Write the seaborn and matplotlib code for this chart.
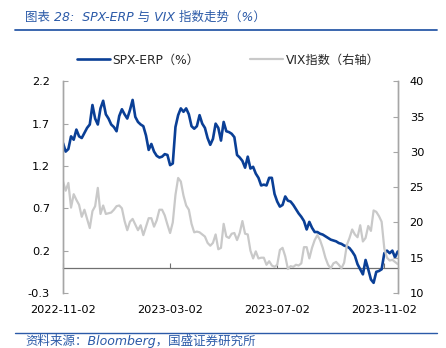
import numpy as np
import pandas as pd
import matplotlib
matplotlib.use("Agg")
import matplotlib.pyplot as plt
from matplotlib.lines import Line2D
import seaborn as sns

# ---------------- data ----------------
tick_labels = ["2022-11-02", "2023-03-02", "2023-07-02", "2023-11-02"]
tick_pos = [0, 80, 160, 240]

spx_erp = [
    1.47, 1.37, 1.40, 1.55, 1.51, 1.63, 1.55, 1.53, 1.59, 1.65,
    1.69, 1.92, 1.76, 1.69, 1.88, 1.97, 1.81, 1.76, 1.69, 1.66,
    1.61, 1.79, 1.87, 1.81, 1.76, 1.86, 1.98, 1.78, 1.72, 1.69,
    1.67, 1.56, 1.39, 1.46, 1.37, 1.32, 1.30, 1.31, 1.34, 1.33,
    1.21, 1.23, 1.66, 1.80, 1.88, 1.84, 1.88, 1.81, 1.67, 1.64,
    1.67, 1.80, 1.70, 1.65, 1.53, 1.45, 1.52, 1.70, 1.65, 1.50,
    1.72, 1.61, 1.60, 1.58, 1.54, 1.33, 1.30, 1.26, 1.18, 1.31,
    1.17, 1.19, 1.11, 1.06, 0.97, 0.98, 0.97, 1.06, 1.06, 0.87,
    0.78, 0.72, 0.74, 0.84, 0.79, 0.78, 0.74, 0.69, 0.64, 0.60,
    0.55, 0.45, 0.54, 0.47, 0.42, 0.42, 0.40, 0.39, 0.37, 0.35,
    0.33, 0.32, 0.31, 0.29, 0.28, 0.26, 0.25, 0.23, 0.19, 0.14,
    0.04, -0.02, -0.08, 0.09, -0.02, -0.14, -0.18, -0.05, -0.04, -0.02,
    0.17, 0.20, 0.17, 0.20, 0.12, 0.19,
]

vix = [
    25.8, 24.5, 25.6, 22.1, 24.0, 23.2, 22.5, 20.8, 21.8, 20.5,
    19.2, 21.6, 22.3, 24.9, 21.2, 22.4, 21.2, 21.3, 21.4, 21.8,
    22.3, 22.4, 22.0, 20.2, 18.9, 20.1, 20.5, 19.7, 18.9, 19.6,
    18.2, 19.4, 20.6, 20.6, 19.4, 20.3, 21.8, 21.8, 21.0, 19.7,
    18.5, 20.0, 23.9, 26.3, 25.8, 23.8, 22.4, 21.8, 19.8, 18.6,
    18.7, 18.6, 18.3, 18.0, 17.1, 16.7, 17.1, 18.3, 16.2, 16.4,
    19.8, 18.0, 17.8, 18.4, 18.5, 17.5, 18.5, 20.2, 18.4, 18.3,
    16.0, 14.9, 15.9, 14.9, 15.0, 15.0, 14.0, 14.5, 13.9, 13.7,
    14.0, 16.1, 16.4, 15.2, 13.4, 13.8, 13.7, 14.0, 13.9, 14.2,
    16.5, 16.5, 14.9, 16.4, 17.5, 18.2, 17.5, 16.4, 15.0, 14.0,
    13.5, 14.2, 14.4, 14.0, 13.5, 14.3, 16.8, 17.8, 19.0, 18.3,
    17.9, 19.6, 17.3, 17.8, 19.5, 18.8, 21.7, 21.5, 20.9, 20.1,
    16.3, 15.0, 14.6, 14.7, 14.4, 14.1,
]

day_index = list(range(0, 2 * len(spx_erp), 2))

left_ticks = [-0.3, 0.2, 0.7, 1.2, 1.7, 2.2]
right_ticks = [10, 15, 20, 25, 30, 35, 40]

df = pd.DataFrame({"day": day_index, "erp": spx_erp, "vix": vix})

# ---------------- style ----------------
sns.set_style("white")
plt.rcParams["font.family"] = ["DejaVu Sans", "Noto Sans CJK SC"]
FS = 8.2
BLUE = "#0a3f96"
GRAY = "#c9c9c9"
HEAD = "#2b5aa8"
SPINE = "#a6a6a6"

fig = plt.figure(figsize=(4.46, 3.48), dpi=100)
ax = fig.add_axes([63 / 446, 1 - 293 / 348, (397.7 - 63) / 446, (293 - 81.3) / 348])
ax2 = ax.twinx()

sns.lineplot(data=df, x="day", y="erp", ax=ax, color=BLUE, linewidth=1.9, zorder=3)
sns.lineplot(data=df, x="day", y="vix", ax=ax2, color=GRAY, linewidth=1.6, zorder=2)

ax.set_xlim(0, 250)
ax.set_ylim(-0.3, 2.2)
ax2.set_ylim(10, 40)

ax.set_yticks(left_ticks)
ax.set_yticklabels([f"{v:.1f}" for v in left_ticks])
ax2.set_yticks(right_ticks)
ax2.set_yticklabels([str(v) for v in right_ticks])
ax.set_xticks(tick_pos)
ax.set_xticklabels(tick_labels)

for a in (ax, ax2):
    a.set_xlabel("")
    a.set_ylabel("")
    a.spines["top"].set_visible(False)
    a.spines["left"].set_color(SPINE)
    a.spines["right"].set_color(SPINE)
    a.spines["left"].set_linewidth(1.0)
    a.spines["right"].set_linewidth(1.0)
    a.grid(False)

ax2.spines["bottom"].set_visible(False)
ax.spines["bottom"].set_position(("data", 0))
ax.spines["bottom"].set_color("#707070")
ax.spines["bottom"].set_linewidth(0.9)

ax.tick_params(axis="y", direction="in", length=3.5, width=0.8, color=SPINE,
               labelsize=FS, pad=9.4, left=True, labelcolor="black")
ax2.tick_params(axis="y", direction="in", length=3.5, width=0.8, color=SPINE,
                labelsize=FS, pad=8.6, right=True, labelcolor="black")
ax.tick_params(axis="x", direction="in", length=3.5, width=0.8, color="#707070",
               labelsize=FS, pad=27.0, bottom=True, labelcolor="black")

# ---------------- legend ----------------
handles = [Line2D([0], [0], color=BLUE, lw=1.9), Line2D([0], [0], color=GRAY, lw=1.6)]
fig.legend(handles, ["SPX-ERP（%）", "VIX指数（右轴）"], loc="center",
           bbox_to_anchor=(228 / 446, 1 - 60 / 348), ncol=2, frameon=False,
           fontsize=8.8, handlelength=2.7, handletextpad=0.2, columnspacing=4.2)

# ---------------- header / footer ----------------
fig.text(25 / 446, 1 - 17 / 348, "图表 28:  SPX-ERP 与 VIX 指数走势（%）", color=HEAD,
         fontsize=9.0, style="italic", va="center", ha="left")
fig.add_artist(Line2D([15 / 446, 437 / 446], [1 - 29.5 / 348] * 2, color=HEAD, lw=1.3))
fig.add_artist(Line2D([15 / 446, 437 / 446], [1 - 332.7 / 348] * 2, color=HEAD, lw=1.0))
fig.text(25 / 446, 1 - 341 / 348, "资料来源：Bloomberg，国盛证券研究所", color=HEAD,
         fontsize=9.0, style="italic", va="center", ha="left")

fig.savefig("out.png", dpi=100)
